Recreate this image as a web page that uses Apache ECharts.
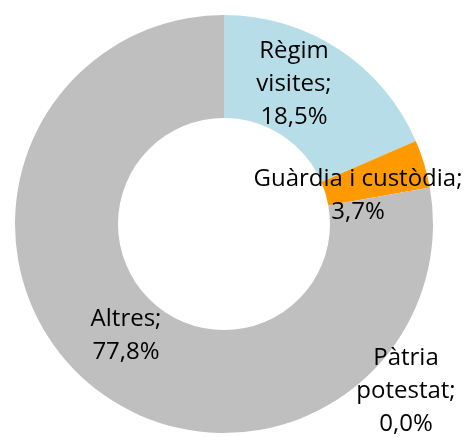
<!DOCTYPE html>
<html>
<head>
<meta charset="utf-8">
<script src="https://cdn.jsdelivr.net/npm/echarts@6/dist/echarts.min.js"></script>
<style>
    html, body { margin: 0; padding: 0; background: #fff; }
    #main { width: 465px; height: 437px; }
</style>
</head>
<body>
<div id="main"></div>
<script>
// 数据
var categories = ['Règim visites', 'Guàrdia i custòdia', 'Pàtria potestat', 'Altres'];
var values = [18.5, 3.7, 0.0, 77.8];
var colors = ['#B7DEE8', '#FF9900', '#A6A6A6', '#BFBFBF'];
// label text lines (as in the original)
var labelTexts = ['Règim\nvisites;\n18,5%', 'Guàrdia i custòdia;\n3,7%', 'Pàtria\npotestat;\n0,0%', 'Altres;\n77,8%'];
// label centres in px
var labelPos = [[294, 84], [358, 196], [406, 391], [126, 336]];

init();

function init() {
    var myChart = echarts.init(document.getElementById('main'));
    var data = categories.map(function (name, i) {
        return {
            name: name,
            value: values[i],
            itemStyle: { color: colors[i] },
            label: { formatter: labelTexts[i] }
        };
    });
    var option = {
        animation: false,
        series: [{
            type: 'pie',
            center: [224, 224],
            radius: [106, 209],
            startAngle: 90,
            clockwise: true,
            avoidLabelOverlap: false,
            itemStyle: { borderWidth: 0 },
            label: {
                show: true,
                position: 'inside',
                color: '#000',
                fontFamily: 'Open Sans',
                fontSize: 24,
                lineHeight: 33,
                align: 'center',
                verticalAlign: 'middle'
            },
            labelLine: { show: false },
            labelLayout: function (params) {
                var p = labelPos[params.dataIndex];
                return { x: p[0], y: p[1], align: 'center', verticalAlign: 'middle' };
            },
            emphasis: { disabled: true },
            data: data
        }]
    };
    myChart.setOption(option);
}
</script>
</body>
</html>
